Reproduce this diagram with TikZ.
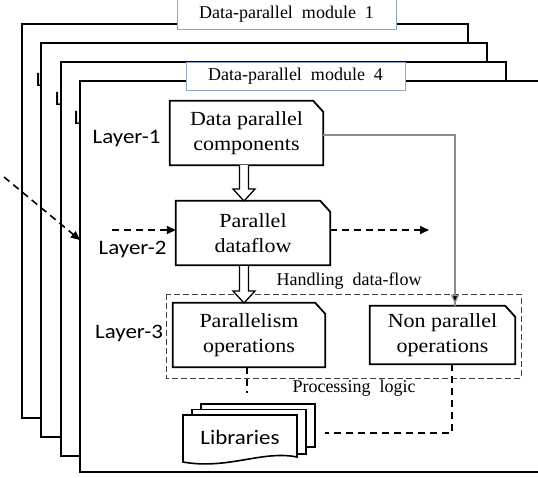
\documentclass[tikz,border=0pt]{standalone}
\usepackage{fontspec}
\setmainfont{Liberation Serif}
\newfontfamily\boxfont[FakeStretch=1.1]{Liberation Serif}
\newfontfamily\calfont[FakeStretch=1.12]{Carlito}
\usetikzlibrary{arrows.meta}
\definecolor{labblue}{RGB}{140,166,200}
\definecolor{linegray}{RGB}{140,140,140}
\newcommand\chamferbox[1]{\draw[boxline] (#1.south west) -- (#1.north west) -- ([xshift=-10pt]#1.north east) -- ([yshift=-11pt]#1.north east) -- (#1.south east) -- cycle;}
\begin{document}
\begin{tikzpicture}[x=1pt,y=-1pt,
  frame/.style={draw=black,line width=1.8pt,fill=white},
  modlabel/.style={draw=labblue,line width=1pt,fill=white,inner sep=0pt,font=\fontsize{18}{21}\selectfont},
  boxtext/.style={inner sep=0pt,align=center,font=\boxfont\fontsize{20}{25}\selectfont},
  boxline/.style={draw=black,line width=1.8pt},
  layertext/.style={inner sep=0pt,anchor=base west,font=\calfont\fontsize{20.5}{24}\selectfont},
  smalltext/.style={inner sep=0pt,font=\fontsize{18}{21}\selectfont},
  dasharrow/.style={line width=1.6pt,dash pattern=on 7pt off 5pt,-{Triangle[length=9pt,width=8pt]}},
  dashline/.style={line width=1.6pt,dash pattern=on 7pt off 5pt},
  hollow/.style={draw=black,line width=1.3pt,fill=white,line join=miter},
  sheet/.style={draw=black,line width=1.6pt,fill=white}
]
\useasboundingbox (0,0) rectangle (538,477);
\clip (0,0) rectangle (538,477);

% stacked frames
\path[frame] (22,24) rectangle (468,418);
\node[layertext] (l1) at (35.5,86) {L};
\path[frame] (41,43) rectangle (487,437);
\node[layertext] (l2) at (54.5,105) {L};
\path[frame] (61,62) rectangle (506,456);
\node[layertext] (l3) at (73.5,124) {L};
\path[frame] (80,81) rectangle (560,472);

\node[modlabel,minimum width=219pt,minimum height=31pt] (m1) at (286.5,14) {Data-parallel~ module~ 1};
\node[modlabel,minimum width=219pt,minimum height=28pt] (m4) at (295.5,76) {Data-parallel~ module~ 4};

% layer labels
\node[layertext] (lay1) at (92.5,143) {Layer-1};
\node[layertext] (lay2) at (98.5,254) {Layer-2};
\node[layertext] (lay3) at (95,338) {Layer-3};

% processing-logic dashed region
\draw[draw=black!75,line width=1pt,dash pattern=on 6pt off 3pt] (166,294) rectangle (521,378);

% boxes
\node[boxtext,minimum width=153pt,minimum height=64pt] (comp) at (246.5,133) {Data parallel\\components};
\chamferbox{comp}
\node[boxtext,minimum width=154pt,minimum height=64pt] (flow) at (253,233) {Parallel\\dataflow};
\chamferbox{flow}
\node[boxtext,minimum width=152pt,minimum height=64pt] (par) at (249,335) {Parallelism\\operations};
\chamferbox{par}
\node[boxtext,minimum width=145pt,minimum height=58pt] (nonpar) at (442.5,335) {Non parallel\\operations};
\chamferbox{nonpar}

% hollow arrows
\draw[hollow] (239.5,165) -- (239.5,189) -- (233,189) -- (244,201) -- (255,189) -- (248.5,189) -- (248.5,165);
\draw[hollow] (239.5,266) -- (239.5,291) -- (233,291) -- (244,303) -- (255,291) -- (248.5,291) -- (248.5,266);

% thin gray connector
\draw[linegray,line width=1.2pt] ([yshift=-2pt]comp.east) -| ([xshift=12.5pt]nonpar.north);
\draw[linegray,line width=1.2pt,-{Triangle[length=9pt,width=8pt,fill=black]}] (455,290) -- ([xshift=12.5pt,yshift=2pt]nonpar.north);

% dashed dataflow arrows
\coordinate (inL) at (112,230);
\coordinate (outR) at (429,230);
\coordinate (diagS) at (4,177);
\coordinate (diagE) at (80,240);
\draw[dasharrow] (inL) -- (flow.west |- inL);
\draw[dasharrow] (flow.east |- outR) -- (outR);
\draw[dasharrow] (diagS) -- (diagE);

% texts
\node[smalltext] (hdf) at (349,281) {Handling~ data-flow};
\node[smalltext] (plg) at (354,388) {Processing~ logic};

% libraries
\path[sheet] (201,404) rectangle (315,447);
\path[sheet] (192,409.5) rectangle (306,454);
\path[sheet] (183,415) -- (297,415) -- (297,457) .. controls (262,450) and (228,470) .. (183,462) -- cycle;
\node[inner sep=0pt,font=\calfont\fontsize{20.5}{24}\selectfont] (lib) at (240,437) {Libraries};

% dashed connectors to libraries
\coordinate (parend) at (247,393);
\draw[dashline] (par.south -| parend) -- (parend);
\coordinate (libR) at (325,433);
\draw[dashline] ([xshift=9.5pt]nonpar.south) |- (libR);
\end{tikzpicture}
\end{document}
